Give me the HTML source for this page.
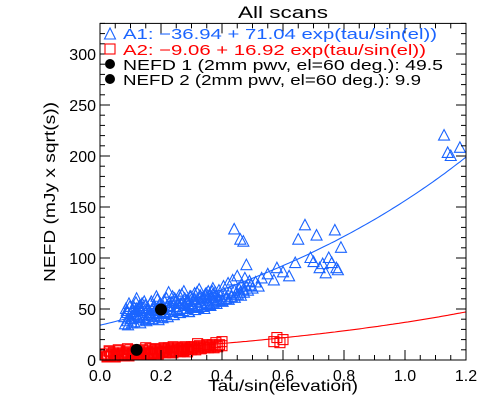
<!DOCTYPE html>
<html><head><meta charset="utf-8"><style>
html,body{margin:0;padding:0;background:#fff;}
svg{display:block;font-family:"Liberation Sans",sans-serif;}
</style></head><body>
<svg id="chart" width="496" height="409" viewBox="0 0 496 409"></svg>
<script>
const xTicks=[0.0,0.2,0.4,0.6,0.8,1.0,1.2];
const xTickLabels=["0.0","0.2","0.4","0.6","0.8","1.0","1.2"];
const yTicks=[0,50,100,150,200,250,300];
const yTickLabels=["0","50","100","150","200","250","300"];
const blueX=[0.08,0.085,0.09,0.095,0.10,0.105,0.11,0.115,0.12,0.125,0.13,0.135,0.14,0.145,0.15,0.155,0.16,0.165,0.17,0.175,0.18,0.185,0.19,0.195,0.20,0.205,0.21,0.215,0.22,0.225,0.23,0.235,0.24,0.245,0.25,0.255,0.26,0.265,0.27,0.275,0.28,0.285,0.29,0.295,0.30,0.305,0.31,0.315,0.32,0.325,0.33,0.335,0.34,0.345,0.35,0.355,0.36,0.365,0.37,0.375,0.38,0.385,0.39,0.395,0.40,0.405,0.41,0.415,0.42,0.425,0.43,0.435,0.44,0.445,0.45,0.455,0.46,0.465,0.47,0.475,0.48,0.485,0.49,0.495,0.50,0.51,0.52,
0.09,0.10,0.11,0.12,0.13,0.14,0.15,0.16,0.17,0.18,0.19,0.21,0.23,0.25,0.27,0.29,0.31,0.33,0.35,0.37,
0.082,0.092,0.102,0.112,0.122,0.132,0.142,0.152,0.162,0.172,0.182,0.192,0.202,0.212,0.222,0.232,0.242,0.252,0.262,0.272,0.282,0.292,0.302,0.312,0.322,0.332,0.342,0.352,0.362,0.372,0.382,0.392,0.402,0.412,0.422,0.432,0.442,0.452,0.462,0.472,
0.088,0.098,0.108,0.118,0.128,0.138,0.148,0.158,0.168,0.178,0.188,0.198,0.208,0.218,0.228,0.238,0.248,0.258,0.268,0.278,0.288,0.298,0.308,0.318,0.328,0.338,0.348,0.358,0.368,0.378,
0.44,0.46,0.47,0.48,0.53,0.55,0.57,0.58,0.60,0.62,0.64,0.65,0.672,0.69,0.70,0.71,0.72,0.73,0.75,0.76,0.77,0.775,0.78,0.79,0.74,1.128,1.14,1.15,1.18];
const blueY=[42,50,38,55,45,36,52,47,60,41,53,48,44,57,39,50,46,55,43,52,48,62,45,54,50,41,58,47,53,66,49,56,44,60,52,48,63,55,50,67,53,58,47,62,55,51,65,57,53,69,56,60,52,64,58,67,54,61,70,57,63,59,68,62,58,72,64,60,75,66,62,78,68,64,82,70,66,74,69,80,72,68,77,73,70,76,72,
46,40,44,50,42,51,46,40,49,42,51,46,52,58,56,54,59,62,61,64,
35,34,40,37,43,36,41,38,44,40,46,39,43,45,42,47,44,49,46,48,50,47,52,49,51,54,50,55,53,56,55,58,57,60,59,62,61,64,63,66,
48,52,49,56,51,55,53,50,57,53,59,55,52,60,56,62,58,55,64,60,57,62,59,66,63,61,65,63,67,66,
128,118,116,93,80,84,78,90,86,82,95,118,132,100,96,122,90,94,100,95,127,90,88,110,85,220,203,200,208];
const redX=[0.02,0.026,0.032,0.038,0.044,0.05,0.056,0.062,0.068,0.074,0.08,0.086,0.092,0.098,0.104,0.11,0.116,0.122,0.128,0.134,0.14,0.146,0.152,0.158,0.164,0.17,0.176,0.182,0.188,0.194,0.20,0.206,0.212,0.218,0.224,0.23,0.236,0.242,0.248,0.254,0.26,0.266,0.272,0.278,0.284,0.29,0.296,0.302,0.308,0.314,0.32,0.326,0.332,0.338,0.344,0.35,0.356,0.362,0.368,0.374,0.38,0.386,0.392,0.40,
0.03,0.06,0.09,0.12,0.15,0.18,0.21,0.24,0.27,0.30,0.32,0.35,0.38,0.40,0.57,0.58,0.59,0.60,
0.023,0.035,0.047,0.059,0.071,0.083,0.095,0.107,0.119,0.131,0.143,0.155,0.167,0.179,0.191,0.203,0.215,0.227,0.239,0.251,0.263,0.275,0.287,0.299];
const redY=[6,4,8,5,7,3,6,9,5,7,4,8,6,10,5,7,9,6,8,5,10,7,9,6,11,8,7,10,9,7,11,8,10,9,12,8,11,10,9,12,10,11,9,13,11,10,12,11,13,10,12,14,11,13,12,14,12,13,15,12,14,13,15,14,
9,10,11,8,12,11,12,13,12,13,16,15,17,18,18,22,17,20,
3,4,3,5,4,5,4,6,5,6,5,7,6,7,6,8,7,8,7,9,8,9,8,10];
const dotX=[0.2,0.12];
const dotY=[49.5,9.9];
const fitA=[-36.94,-9.06];
const fitB=[71.04,16.92];

const svg=document.getElementById('chart');
const NS='http://www.w3.org/2000/svg';
const L=100,R=466,B=360,T=23.4;
const sx=v=>L+v*(R-L)/1.2;
const sy=v=>B-v*(B-T)/330;
function mk(tag,attrs,parent){const e=document.createElementNS(NS,tag);for(const k in attrs)e.setAttribute(k,attrs[k]);(parent||svg).appendChild(e);return e;}

const marks=mk('g',{});


['#1a64ff','#ff0000'].forEach((c,i)=>{
  let d='';
  for(let k=0;k<=120;k++){const x=k*0.01;const y=fitA[i]+fitB[i]*Math.exp(x);d+=(k?'L':'M')+sx(x).toFixed(1)+' '+sy(y).toFixed(1);}
  const p=mk('path',{d:d,fill:'none',stroke:c,'stroke-width':1.1},marks);
  
  
});
redX.forEach((x,i)=>{
  const r=mk('rect',{x:sx(x)-5,y:sy(redY[i])-5,width:10,height:10,fill:'none',stroke:'#ff0000','stroke-width':1.1},marks);
  
  
});
blueX.forEach((x,i)=>{
  const cx=sx(x),cy=sy(blueY[i]);
  const t=mk('polygon',{points:`${cx},${cy-6} ${cx-5.5},${cy+4.5} ${cx+5.5},${cy+4.5}`,fill:'none',stroke:'#1a64ff','stroke-width':1.1},marks);
  
  
});
dotX.forEach((x,i)=>{
  const c=mk('circle',{cx:sx(x),cy:sy(dotY[i]),r:6,fill:'#000'},marks);
  
  
});

const ax=mk('g',{stroke:'#000','stroke-width':1,fill:'none'});


mk('rect',{x:L,y:T,width:R-L,height:B-T},ax);
for(let v=0;v<=1.2001;v+=0.05){const major=Math.abs(v/0.2-Math.round(v/0.2))<1e-6;const len=major?10:5;const X=sx(v);mk('line',{x1:X,y1:B,x2:X,y2:B-len},ax);mk('line',{x1:X,y1:T,x2:X,y2:T+len},ax);}
for(let v=0;v<=330;v+=10){const len=(v%50===0)?10:5;const Y=sy(v);mk('line',{x1:L,y1:Y,x2:L+len,y2:Y},ax);mk('line',{x1:R,y1:Y,x2:R-len,y2:Y},ax);}
xTicks.forEach((v,i)=>{const t=mk('text',{x:sx(v),y:B+21,'text-anchor':'middle','font-size':16,fill:'#000'});t.textContent=xTickLabels[i];

});
yTicks.forEach((v,i)=>{const t=mk('text',{x:L-4,y:sy(v)+6,'text-anchor':'end','font-size':16,fill:'#000'});t.textContent=yTickLabels[i];

});

function txt(s,attrs,name){const t=mk('text',attrs);t.textContent=s;return t;}
txt('All scans',{x:283,y:18,'text-anchor':'middle','font-size':17,fill:'#000',textLength:90,lengthAdjust:'spacingAndGlyphs'},'chart-title');
txt('Tau/sin(elevation)',{x:283,y:391,'text-anchor':'middle','font-size':16,fill:'#000',textLength:150,lengthAdjust:'spacingAndGlyphs'},'x-axis-title');
txt('NEFD (mJy x sqrt(s))',{x:55,y:192,'text-anchor':'middle','font-size':16,fill:'#000',textLength:180,lengthAdjust:'spacingAndGlyphs',transform:'rotate(-90 55 192)'},'y-axis-title');

const lg=mk('g',{});


mk('polygon',{points:'110,28 104.5,39 115.5,39',fill:'none',stroke:'#1a64ff','stroke-width':1.1},lg);
mk('rect',{x:105,y:44,width:10,height:10,fill:'none',stroke:'#ff0000','stroke-width':1.1},lg);
mk('circle',{cx:110,cy:64,r:5,fill:'#000'},lg);
mk('circle',{cx:110,cy:79,r:5,fill:'#000'},lg);
txt('A1: −36.94 + 71.04 exp(tau/sin(el))',{x:123,y:39,'font-size':15,fill:'#1a64ff',textLength:314,lengthAdjust:'spacingAndGlyphs'},'legend-a1');
txt('A2: −9.06 + 16.92 exp(tau/sin(el))',{x:123,y:55,'font-size':15,fill:'#ff0000',textLength:303,lengthAdjust:'spacingAndGlyphs'},'legend-a2');
txt('NEFD 1 (2mm pwv, el=60 deg.): 49.5',{x:123,y:70,'font-size':15,fill:'#000',textLength:320,lengthAdjust:'spacingAndGlyphs'},'legend-nefd1');
txt('NEFD 2 (2mm pwv, el=60 deg.): 9.9',{x:123,y:85,'font-size':15,fill:'#000',textLength:298,lengthAdjust:'spacingAndGlyphs'},'legend-nefd2');
</script>
</body></html>
